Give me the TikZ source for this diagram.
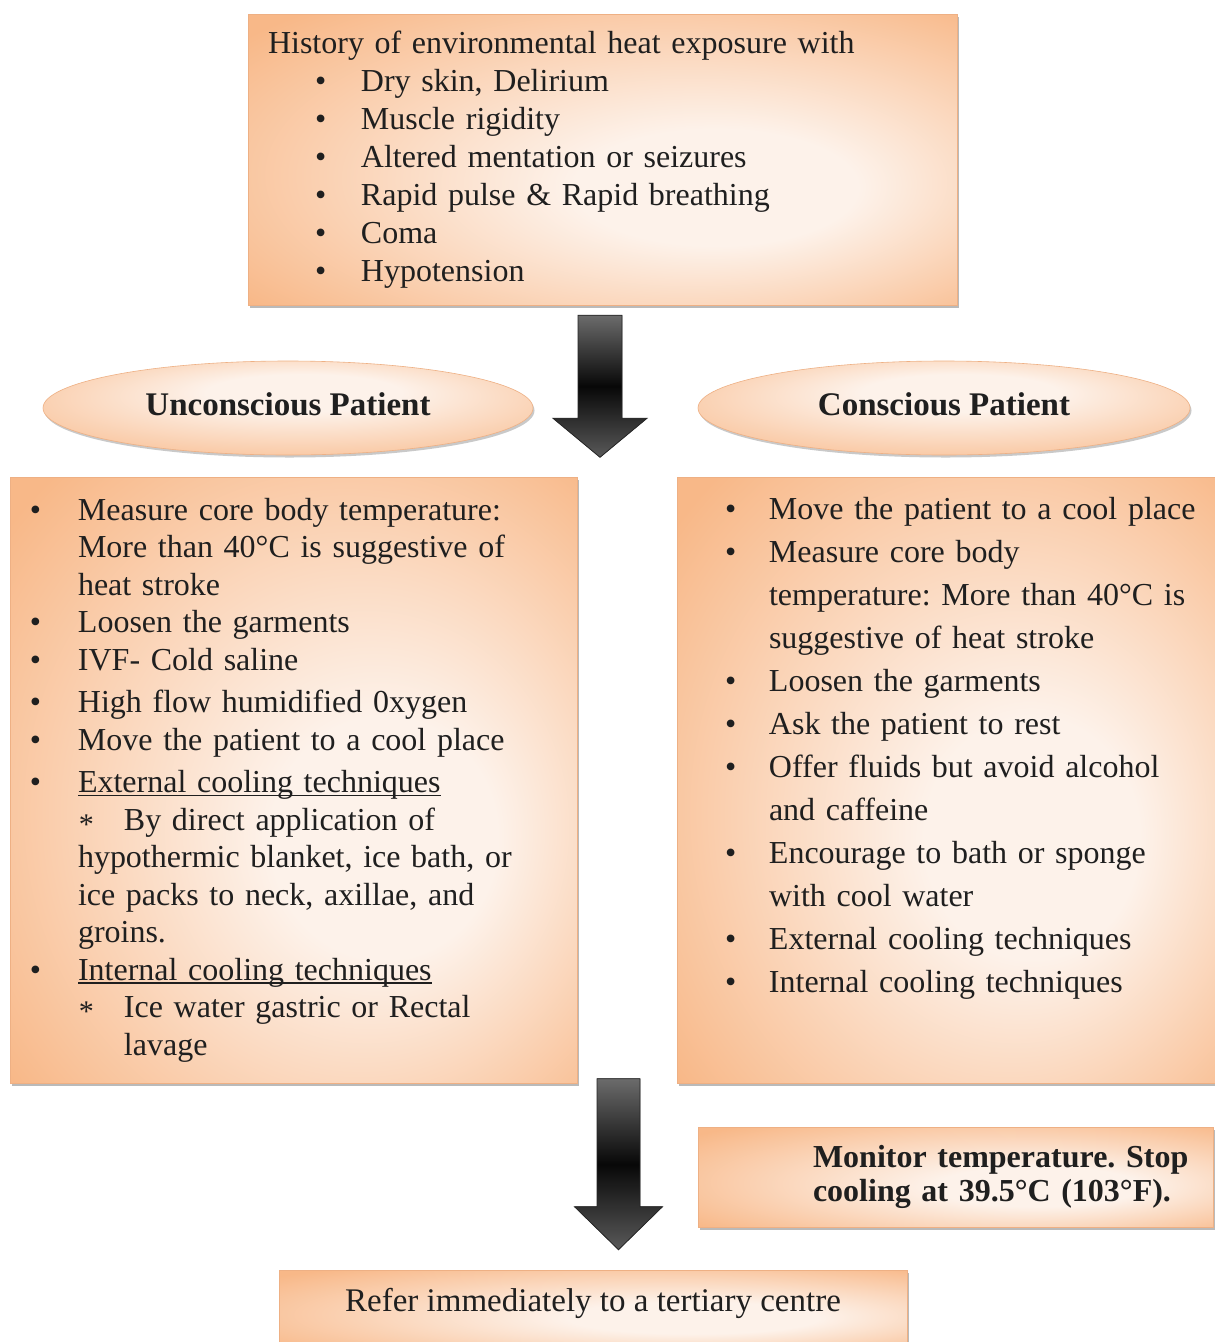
\documentclass[tikz,border=0pt]{standalone}
\usepackage{fontspec}
\setmainfont{Liberation Serif}
\usetikzlibrary{shapes.geometric, shadows, calc}
\frenchspacing
\definecolor{peach}{RGB}{248,184,136}
\definecolor{peachlight}{RGB}{253,242,234}
\definecolor{peachedge}{RGB}{238,176,132}
\pgfdeclareradialshading{peachglow}{\pgfpoint{10bp}{-6bp}}{color(0bp)=(peachlight); color(10bp)=(peachlight); color(36bp)=(peach); color(50bp)=(peach)}
\pgfdeclareradialshading{peachoval}{\pgfpoint{2bp}{10bp}}{color(0bp)=(peachlight); color(10bp)=(peachlight); color(38bp)=(peach); color(50bp)=(peach)}
\newcommand{\bitem}[1]{\makebox[#1][l]{\textbullet}}
\newcommand{\staritem}[1]{\makebox[#1][l]{\hspace{1pt}\raisebox{-4pt}{\fontsize{30}{30}\selectfont *}}}
\newcommand{\lineunder}[1]{\setbox0\hbox{#1}\rlap{\rule[-3.5pt]{\wd0}{1.2pt}}#1}
\tikzset{
    peachbox/.style = {rectangle, draw=peachedge, line width=0.6pt, shade, shading=peachglow, inner sep=0pt, align=left, text=black!88,
        drop shadow={shadow xshift=1.5pt, shadow yshift=-2.5pt, opacity=0.45, fill=black!60}},
    peachell/.style = {ellipse, draw=peachedge, line width=0.6pt, shade, shading=peachoval, inner sep=0pt, text=black!88,
        font=\bfseries\fontsize{33}{38}\selectfont, text depth=8pt,
        drop shadow={shadow xshift=1.5pt, shadow yshift=-2.5pt, opacity=0.35, fill=black!60}},
    bigarrow/.style = {draw=black!85, line width=0.8pt, top color=black!58, bottom color=black!65, middle color=black!97}
}
\begin{document}
\begin{tikzpicture}[x=1pt, y=-1pt]
\path[use as bounding box, fill=white] (0,0) rectangle (1215,1342);

% --- SYMPTOMS ---
\node (history) [peachbox, minimum width=709pt, minimum height=291pt, text width=709pt, font=\fontsize{32}{38}\selectfont] at (602.5,159.5) {\hspace*{20pt}History of environmental heat exposure with\\
\hspace*{67pt}\bitem{46pt}Dry skin, Delirium\\
\hspace*{67pt}\bitem{46pt}Muscle rigidity\\
\hspace*{67pt}\bitem{46pt}Altered mentation or seizures\\
\hspace*{67pt}\bitem{46pt}Rapid pulse \& Rapid breathing\\
\hspace*{67pt}\bitem{46pt}Coma\\
\hspace*{67pt}\bitem{46pt}Hypotension};

% --- PATIENT STATE ---
\node (unconscious) [peachell, minimum width=490pt, minimum height=94pt] at (288,408) {Unconscious Patient};
\node (conscious) [peachell, minimum width=492pt, minimum height=94pt] at (944,408) {Conscious Patient};

% --- MANAGEMENT ---
\node (unc_care) [peachbox, minimum width=567pt, minimum height=606pt, text width=567pt, font=\fontsize{32}{37.5}\selectfont] at (293.5,780) {\hspace*{20pt}\bitem{48pt}Measure core body temperature:\\
\hspace*{68pt}More than 40°C is suggestive of\\
\hspace*{68pt}heat stroke\\
\hspace*{20pt}\bitem{48pt}Loosen the garments\\
\hspace*{20pt}\bitem{48pt}IVF- Cold saline\\[5pt]
\hspace*{20pt}\bitem{48pt}High flow humidified 0xygen\\
\hspace*{20pt}\bitem{48pt}Move the patient to a cool place\\[5pt]
\hspace*{20pt}\bitem{48pt}\lineunder{External cooling techniques}\\
\hspace*{68pt}\staritem{46pt}By direct application of\\
\hspace*{68pt}hypothermic blanket, ice bath, or\\
\hspace*{68pt}ice packs to neck, axillae, and\\
\hspace*{68pt}groins.\\
\hspace*{20pt}\bitem{48pt}\lineunder{Internal cooling techniques}\\
\hspace*{68pt}\staritem{46pt}Ice water gastric or Rectal\\
\hspace*{114pt}lavage};

\node (con_care) [peachbox, minimum width=538pt, minimum height=606pt, text width=538pt, text depth=542.5pt, font=\fontsize{32}{43}\selectfont] at (946,780) {\hspace*{48pt}\bitem{44pt}Move the patient to a cool place\\
\hspace*{48pt}\bitem{44pt}Measure core body\\
\hspace*{92pt}temperature: More than 40°C is\\
\hspace*{92pt}suggestive of heat stroke\\
\hspace*{48pt}\bitem{44pt}Loosen the garments\\
\hspace*{48pt}\bitem{44pt}Ask the patient to rest\\
\hspace*{48pt}\bitem{44pt}Offer fluids but avoid alcohol\\
\hspace*{92pt}and caffeine\\
\hspace*{48pt}\bitem{44pt}Encourage to bath or sponge\\
\hspace*{92pt}with cool water\\
\hspace*{48pt}\bitem{44pt}External cooling techniques\\
\hspace*{48pt}\bitem{44pt}Internal cooling techniques};

% --- FOLLOW-UP ---
\node (monitor) [peachbox, minimum width=515pt, minimum height=100pt, text width=515pt, font=\bfseries\fontsize{32}{34}\selectfont] at (955.5,1177) {\hspace*{115pt}Monitor temperature. Stop\\
\hspace*{115pt}cooling at 39.5°C (103°F).};
\node (refer) [peachbox, minimum width=628pt, minimum height=80pt, text depth=20pt, font=\fontsize{33}{38}\selectfont] at (593,1310) {Refer immediately to a tertiary centre};

% --- BLOCK ARROWS ---
\path (history.south) ++(-2.5,10) coordinate (downA);
\filldraw [bigarrow] (downA) ++(-22,0) -- ++(44,0) -- ++(0,103) -- ++(25,0) -- ++(-47,39) -- ++(-47,-39) -- ++(25,0) -- cycle;

\path (refer.north) ++(25.5,-20) coordinate (downB);
\filldraw [bigarrow] (downB) -- ++(44,-43) -- ++(-22.5,0) -- ++(0,-128) -- ++(-43,0) -- ++(0,128) -- ++(-22.5,0) -- cycle;

\end{tikzpicture}
\end{document}
